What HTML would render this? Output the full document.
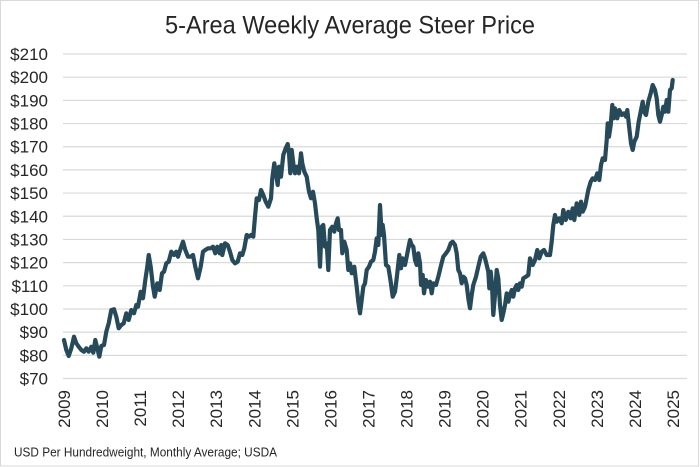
<!DOCTYPE html>
<html>
<head>
<meta charset="utf-8">
<style>
  html, body { margin: 0; padding: 0; background: #ffffff; }
  svg { display: block; }
  text { font-family: "Liberation Sans", "DejaVu Sans", sans-serif; fill: #262626; }
</style>
</head>
<body>
<svg width="700" height="467" viewBox="0 0 700 467" xmlns="http://www.w3.org/2000/svg">
  <rect x="0" y="0" width="700" height="467" fill="#ffffff"/>
  <rect x="0.5" y="0.5" width="698" height="465.5" fill="none" stroke="#d9d9d9" stroke-width="1"/>

  <text x="350" y="33.3" text-anchor="middle" font-size="25" textLength="370" lengthAdjust="spacingAndGlyphs">5-Area Weekly Average Steer Price</text>

  <g stroke="#d9d9d9" stroke-width="1.2">
    <line x1="63" x2="687" y1="54" y2="54"/>
    <line x1="63" x2="687" y1="77.18" y2="77.18"/>
    <line x1="63" x2="687" y1="100.36" y2="100.36"/>
    <line x1="63" x2="687" y1="123.54" y2="123.54"/>
    <line x1="63" x2="687" y1="146.72" y2="146.72"/>
    <line x1="63" x2="687" y1="169.9" y2="169.9"/>
    <line x1="63" x2="687" y1="193.08" y2="193.08"/>
    <line x1="63" x2="687" y1="216.26" y2="216.26"/>
    <line x1="63" x2="687" y1="239.44" y2="239.44"/>
    <line x1="63" x2="687" y1="262.62" y2="262.62"/>
    <line x1="63" x2="687" y1="285.8" y2="285.8"/>
    <line x1="63" x2="687" y1="308.98" y2="308.98"/>
    <line x1="63" x2="687" y1="332.16" y2="332.16"/>
    <line x1="63" x2="687" y1="355.34" y2="355.34"/>
    <line x1="63" x2="687" y1="378.52" y2="378.52"/>
  </g>

  <g font-size="17" text-anchor="end">
    <text x="48" y="60">$210</text>
    <text x="48" y="83.18">$200</text>
    <text x="48" y="106.36">$190</text>
    <text x="48" y="129.54">$180</text>
    <text x="48" y="152.72">$170</text>
    <text x="48" y="175.9">$160</text>
    <text x="48" y="199.08">$150</text>
    <text x="48" y="222.26">$140</text>
    <text x="48" y="245.44">$130</text>
    <text x="48" y="268.62">$120</text>
    <text x="48" y="291.8">$110</text>
    <text x="48" y="314.98">$100</text>
    <text x="48" y="338.16">$90</text>
    <text x="48" y="361.34">$80</text>
    <text x="48" y="384.52">$70</text>
  </g>

  <g font-size="17" text-anchor="end">
    <text transform="translate(70,390) rotate(-90)">2009</text>
    <text transform="translate(108.06,390) rotate(-90)">2010</text>
    <text transform="translate(146.12,390) rotate(-90)">2011</text>
    <text transform="translate(184.18,390) rotate(-90)">2012</text>
    <text transform="translate(222.24,390) rotate(-90)">2013</text>
    <text transform="translate(260.3,390) rotate(-90)">2014</text>
    <text transform="translate(298.36,390) rotate(-90)">2015</text>
    <text transform="translate(336.42,390) rotate(-90)">2016</text>
    <text transform="translate(374.48,390) rotate(-90)">2017</text>
    <text transform="translate(412.54,390) rotate(-90)">2018</text>
    <text transform="translate(450.6,390) rotate(-90)">2019</text>
    <text transform="translate(488.66,390) rotate(-90)">2020</text>
    <text transform="translate(526.72,390) rotate(-90)">2021</text>
    <text transform="translate(564.78,390) rotate(-90)">2022</text>
    <text transform="translate(602.84,390) rotate(-90)">2023</text>
    <text transform="translate(640.9,390) rotate(-90)">2024</text>
    <text transform="translate(678.96,390) rotate(-90)">2025</text>
  </g>

  <polyline fill="none" stroke="#264a5a" stroke-width="4.2" stroke-linejoin="round" stroke-linecap="round" points="
64,340 66.3,350 68.7,356 71.3,348.3 74,336.7 76.3,343.3 78.7,346.7 81.3,350 84,351.7 86.3,348.3 88.7,351.7 91.3,346.7 93.3,352.7 95.3,340 97.3,348.3 99.3,356.7 101.3,346 104,345 106.3,331.7 108.7,323.3 111.3,310 114,309.3 116.3,316.7 118.7,328.3 121.3,325 123.7,323.3 126.3,313.3 128.7,320 131.3,310 134,313.3 136.3,305 138,306.7 140.7,291.7 143,298.3 145.3,280 147.3,266.7 148.7,255 150.7,266.7 153,286.7 154.7,296.7 157.3,283.3 159.7,290 162,273.3 164,271.7 166.3,263.3 168.7,261.7 171.3,251.7 174,255 176.3,251.7 178,256.7 180.7,248.3 183,241.7 185.3,250 188,256.7 190.7,256.7 193,255 195.3,266.7 198,278.3 200.7,266.7 203,251.7 205.3,250 208,248.3 210.7,248.3 213,246.7 215.3,253.3 217.3,246.7 219.7,253.3 221.3,245
222.3,255 225,243.3 227.7,245 230,251.7 232.3,260 235,263.3 237.7,261.7 240,253.3 242.3,255 244.3,248.3 246.7,235 249,236.7 251,235 253.3,236.7 255,216.7 256.7,198.3 259,200 261,190 263.3,195 265.7,201.7 268.3,206.7 271,198.3 272.3,178.3 274.3,163.3 276,173.3 277.7,185 279,166.7 281,176.7 283.3,155 285.7,148.3 287.7,144 289,153.3 290.3,173.3 291.7,150 293.3,163.3 295,173.3 296.7,166.7 299,173.3 301,153.3 302.3,163.3 304.3,171.7 306.7,176.7 309,191.7 311,198.3 313,191.7 315,203.3 316.7,218.3 318.3,230 320,266.7 321.7,226.7 323.3,225 325,246.7 326.7,243.3 328.3,270 330,230 332.3,226.7 334.3,231.7 336,223.3 337.7,218.3 339,230 341,230 342.3,253.3 344.3,241.7 346.7,250 348.3,270 350,263.3 351.7,273.3 354.3,266.7 356.7,286.7 358.3,301.7 360,313.3 361.7,300 363.3,286.7 365,283.3 366.7,270 369,266.7 371,261.7
373.3,260 375,251.7 376.7,238.3 378.3,245 380,205 381.7,235 382.7,225 384,235 386,265 388.3,266.7 390.7,281.7 392.7,296.7 395,291.7 396.7,278.3 399.3,255 401,268.3 402.7,258.3 405,265 406.7,256.7 408.3,248.3 410,240 411.7,245 413.3,246.7 415,260 416.7,265 418.3,253.3 420,263.3 421,285 422.7,275 424,293.3 426,280 428,286.7 430,281.7 431.7,293.3 433.3,283.3 436,285 438.3,276.7 440.7,266.7 443.3,256.7 446,253.3 448.3,250 450.7,243.3 452.7,241.7 455,245 456.7,253.3 458.3,270 460,273.3 461.7,283.3 463.3,276.7 465,278.3 466.7,285 468.3,298.3 470,308.3 471.7,295 473.3,285 476,276.7 478.3,266.7 480.7,256.7 483.3,253.3 485,258.3 486.7,265 488.3,271.7 489.3,288.3 490.7,271.7 492,285 493.3,315 495,295 496.7,270 498.3,278.3 500,305 501.7,320 503.3,313.3 505,305 506.7,293.3 508.3,301.7 510,295 511.7,290 513.3,296.7 515,288.3 516.7,285 518.3,290 520,283.3 521.7,286.7 523.3,278.3 526,276.7 528.3,275
530,258.3 532.7,265 535,260 537.3,250 539.3,258.3 541.7,251.7 544,250 546.7,255 550,255 551.7,241.7 553.3,225 555,215 556.7,221.7 559.3,218.3 561.7,223.3 563.3,210 565.7,220 568.3,211.7 570.7,218.3 572.7,208.3 574.3,220 576.7,203.3 579.3,215 581,201.7 582.7,211.7 585,206.7 586.7,198.3 588.3,190 590.7,181.7 592.7,178.3 595,180 597.3,173.3 599.3,180 601,165 602.7,158.3 605,160 606.7,140 607.7,123.3 609,136.7 610.7,125 612.3,105 613.7,118.3 615,108.3 617.3,118.3 619.3,110 621.7,115 624,113.3 626,116.7 627.3,110 629.3,128.3 631,143.3 632.7,150 634.3,141.7 636.7,136.7 638.7,121.7 640.7,111.7 642.7,101.7 644,111.7 646,115 648.3,101.7 650.7,93.3 652.7,85 655,90 656.7,98.3 658.3,115 660,121.7 661.7,115 663.3,106.7 665,111.7 666.7,100 668.3,111.7 670,90 671.7,88.3 672.7,80"/>

  <text x="14" y="456.5" font-size="13" textLength="263" lengthAdjust="spacingAndGlyphs">USD Per Hundredweight, Monthly Average; USDA</text>
</svg>
</body>
</html>
